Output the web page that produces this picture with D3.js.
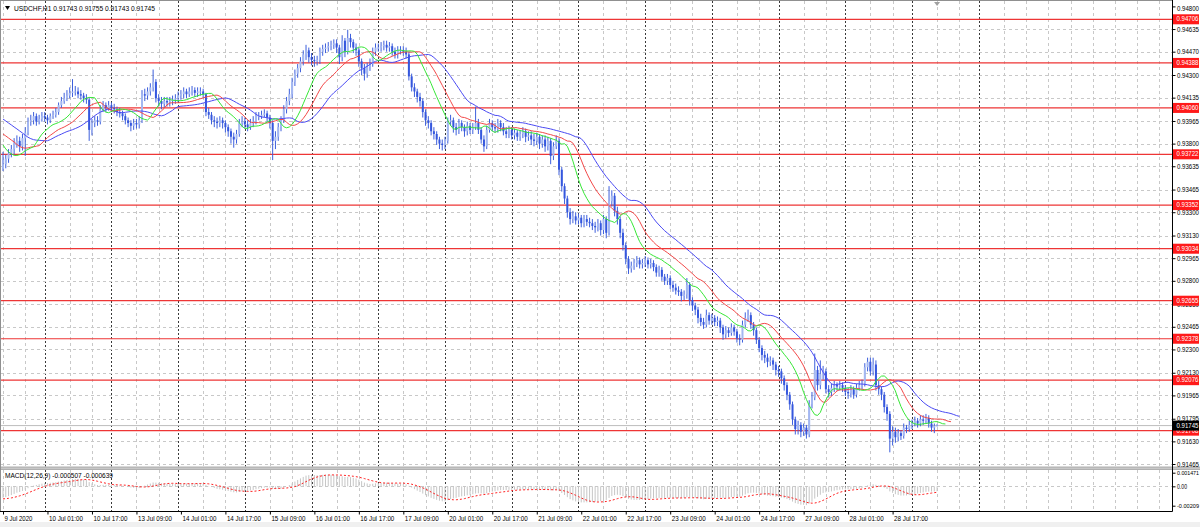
<!DOCTYPE html>
<html><head><meta charset="utf-8">
<script src="https://cdn.jsdelivr.net/npm/d3@7"></script>
<style>
body{margin:0;background:#fff;}
svg{display:block;}
</style>
</head><body>
<svg id="chart" width="1200" height="527"></svg>
<script>
// ---------------- DATA ----------------
const symbolTitle = "USDCHF,H1";
const lastQuote = ["0.91743", "0.91755", "0.91743", "0.91745"];
const macdTitle = "MACD(12,26,9)";
const macdLastValues = ["-0.000507", "-0.000639"];

const firstOpen = 0.9362;
const closes = [
0.9365,0.9369,0.9373,0.9376,0.9380,0.9382,0.9378,0.9384,0.9388,0.9396,
0.9397,0.9400,0.9396,0.9398,0.9400,0.9399,0.9397,0.9400,0.9401,0.9403,
0.9408,0.9411,0.9413,0.9415,0.9417,0.9418,0.9418,0.9416,0.9415,0.9413,
0.9412,0.9390,0.9395,0.9397,0.9396,0.9405,0.9408,0.9406,0.9408,0.9406,
0.9405,0.9403,0.9402,0.9400,0.9397,0.9395,0.9393,0.9395,0.9394,0.9397,
0.9416,0.9415,0.9418,0.9421,0.9425,0.9413,0.9411,0.9409,0.9411,0.9410,
0.9411,0.9412,0.9413,0.9415,0.9416,0.9418,0.9416,0.9418,0.9419,0.9417,
0.9418,0.9418,0.9416,0.9403,0.9401,0.9397,0.9396,0.9395,0.9397,0.9395,
0.9392,0.9389,0.9385,0.9383,0.9387,0.9395,0.9396,0.9394,0.9392,0.9395,
0.9396,0.9400,0.9400,0.9401,0.9402,0.9399,0.9395,0.9382,0.9385,0.9392,
0.9397,0.9405,0.9411,0.9416,0.9425,0.9431,0.9435,0.9440,0.9445,0.9448,
0.9443,0.9441,0.9440,0.9441,0.9447,0.9449,0.9450,0.9451,0.9452,0.9453,
0.9450,0.9443,0.9455,0.9447,0.9457,0.9454,0.9450,0.9448,0.9440,0.9435,
0.9431,0.9436,0.9438,0.9447,0.9450,0.9450,0.9451,0.9452,0.9450,0.9451,
0.9447,0.9445,0.9448,0.9448,0.9447,0.9445,0.9429,0.9421,0.9418,0.9414,
0.9411,0.9403,0.9397,0.9395,0.9389,0.9387,0.9383,0.9380,0.9379,0.9382,
0.9396,0.9397,0.9392,0.9390,0.9395,0.9392,0.9389,0.9393,0.9390,0.9392,
0.9395,0.9390,0.9383,0.9378,0.9390,0.9395,0.9392,0.9391,0.9395,0.9392,
0.9389,0.9387,0.9390,0.9386,0.9388,0.9385,0.9387,0.9389,0.9385,0.9386,
0.9383,0.9382,0.9385,0.9380,0.9383,0.9378,0.9382,0.9371,0.9378,0.9382,
0.9361,0.9349,0.9340,0.9330,0.9325,0.9327,0.9324,0.9326,0.9322,0.9325,
0.9323,0.9322,0.9320,0.9319,0.9322,0.9317,0.9325,0.9315,0.9338,0.9342,
0.9331,0.9325,0.9315,0.9306,0.9296,0.9289,0.9291,0.9293,0.9295,0.9292,
0.9293,0.9295,0.9292,0.9293,0.9290,0.9286,0.9288,0.9283,0.9280,0.9282,
0.9277,0.9275,0.9273,0.9272,0.9269,0.9270,0.9277,0.9266,0.9262,0.9259,
0.9253,0.9250,0.9248,0.9255,0.9251,0.9253,0.9250,0.9251,0.9246,0.9241,
0.9244,0.9242,0.9246,0.9243,0.9238,0.9237,0.9248,0.9253,0.9255,0.9248,
0.9244,0.9237,0.9231,0.9226,0.9224,0.9221,0.9222,0.9219,0.9215,0.9214,
0.9209,0.9204,0.9197,0.9190,0.9179,0.9172,0.9175,0.9170,0.9173,0.9168,
0.9190,0.9195,0.9215,0.9204,0.9212,0.9214,0.9201,0.9199,0.9202,0.9204,
0.9203,0.9204,0.9202,0.9199,0.9198,0.9201,0.9197,0.9202,0.9204,0.9205,
0.9217,0.9221,0.9214,0.9219,0.9204,0.9201,0.9197,0.9188,0.9183,0.9165,
0.9170,0.9166,0.9169,0.9167,0.9173,0.9172,0.9175,0.9176,0.9178,0.9176,
0.9179,0.9178,0.9180,0.9176,0.9173,0.91743,0.91745];

const highs = [
0.9374,0.9372,0.9376,0.9379,0.9384,0.9386,0.9385,0.9387,0.9392,0.9399,
0.9401,0.9403,0.9402,0.9401,0.9403,0.9403,0.9401,0.9402,0.9404,0.9406,
0.9410,0.9414,0.9417,0.9419,0.9421,0.9427,0.9422,0.9421,0.9419,0.9417,
0.9416,0.9414,0.9398,0.9400,0.9400,0.9408,0.9411,0.9410,0.9411,0.9410,
0.9409,0.9407,0.9406,0.9404,0.9402,0.9399,0.9397,0.9398,0.9398,0.9400,
0.9419,0.9420,0.9421,0.9424,0.9434,0.9427,0.9416,0.9414,0.9414,0.9414,
0.9414,0.9415,0.9416,0.9418,0.9419,0.9421,0.9420,0.9421,0.9422,0.9421,
0.9421,0.9421,0.9420,0.9417,0.9406,0.9403,0.9400,0.9399,0.9400,0.9399,
0.9397,0.9394,0.9391,0.9388,0.9390,0.9398,0.9400,0.9399,0.9397,0.9398,
0.9400,0.9403,0.9403,0.9404,0.9405,0.9404,0.9401,0.9397,0.9389,0.9395,
0.9400,0.9408,0.9414,0.9420,0.9428,0.9434,0.9438,0.9443,0.9448,0.9452,
0.9450,0.9446,0.9444,0.9444,0.9450,0.9452,0.9453,0.9454,0.9455,0.9456,
0.9456,0.9452,0.9459,0.9457,0.9463,0.9460,0.9456,0.9453,0.9450,0.9442,
0.9438,0.9439,0.9442,0.9450,0.9453,0.9453,0.9454,0.9455,0.9455,0.9454,
0.9453,0.9450,0.9451,0.9451,0.9451,0.9450,0.9447,0.9431,0.9424,0.9420,
0.9417,0.9413,0.9405,0.9400,0.9397,0.9392,0.9389,0.9385,0.9383,0.9385,
0.9399,0.9401,0.9399,0.9395,0.9398,0.9397,0.9394,0.9396,0.9395,0.9395,
0.9407,0.9398,0.9392,0.9386,0.9393,0.9398,0.9397,0.9395,0.9398,0.9397,
0.9395,0.9392,0.9393,0.9392,0.9391,0.9390,0.9390,0.9392,0.9391,0.9389,
0.9389,0.9387,0.9388,0.9387,0.9386,0.9386,0.9385,0.9384,0.9381,0.9386,
0.9384,0.9363,0.9351,0.9342,0.9333,0.9331,0.9330,0.9329,0.9328,0.9328,
0.9328,0.9326,0.9325,0.9323,0.9325,0.9324,0.9328,0.9327,0.9349,0.9346,
0.9344,0.9334,0.9327,0.9318,0.9308,0.9298,0.9294,0.9296,0.9298,0.9297,
0.9296,0.9298,0.9297,0.9296,0.9295,0.9292,0.9291,0.9290,0.9285,0.9285,
0.9284,0.9280,0.9278,0.9276,0.9274,0.9273,0.9282,0.9279,0.9268,0.9264,
0.9261,0.9256,0.9253,0.9259,0.9257,0.9256,0.9255,0.9254,0.9253,0.9248,
0.9247,0.9246,0.9249,0.9248,0.9245,0.9241,0.9251,0.9257,0.9259,0.9257,
0.9250,0.9246,0.9239,0.9233,0.9229,0.9227,0.9225,0.9224,0.9221,0.9218,
0.9216,0.9211,0.9206,0.9199,0.9192,0.9181,0.9178,0.9177,0.9176,0.9175,
0.9193,0.9199,0.9227,0.9218,0.9222,0.9218,0.9216,0.9204,0.9205,0.9207,
0.9206,0.9207,0.9206,0.9204,0.9202,0.9204,0.9203,0.9205,0.9207,0.9208,
0.9220,0.9224,0.9224,0.9224,0.9222,0.9207,0.9203,0.9199,0.9190,0.9185,
0.9174,0.9173,0.9172,0.9171,0.9176,0.9175,0.9178,0.9179,0.9181,0.9180,
0.9182,0.9182,0.9183,0.9182,0.9178,0.9176,0.91755];

const lows = [
0.9360,0.9362,0.9366,0.9370,0.9372,0.9377,0.9374,0.9375,0.9371,0.9386,
0.9393,0.9394,0.9393,0.9394,0.9396,0.9396,0.9394,0.9395,0.9398,0.9399,
0.9401,0.9406,0.9409,0.9411,0.9413,0.9414,0.9415,0.9413,0.9412,0.9410,
0.9409,0.9382,0.9386,0.9392,0.9393,0.9394,0.9403,0.9403,0.9404,0.9403,
0.9402,0.9400,0.9399,0.9397,0.9394,0.9392,0.9389,0.9390,0.9391,0.9391,
0.9395,0.9411,0.9412,0.9415,0.9418,0.9410,0.9407,0.9405,0.9406,0.9407,
0.9407,0.9408,0.9409,0.9410,0.9412,0.9413,0.9413,0.9414,0.9415,0.9414,
0.9414,0.9415,0.9413,0.9400,0.9398,0.9394,0.9392,0.9391,0.9392,0.9391,
0.9388,0.9385,0.9380,0.9377,0.9380,0.9385,0.9392,0.9391,0.9389,0.9390,
0.9392,0.9394,0.9397,0.9398,0.9399,0.9396,0.9391,0.9368,0.9376,0.9382,
0.9389,0.9395,0.9402,0.9408,0.9413,0.9422,0.9428,0.9432,0.9437,0.9441,
0.9439,0.9437,0.9436,0.9437,0.9438,0.9444,0.9446,0.9447,0.9448,0.9449,
0.9446,0.9438,0.9440,0.9443,0.9445,0.9450,0.9446,0.9444,0.9436,0.9430,
0.9426,0.9428,0.9433,0.9436,0.9444,0.9447,0.9447,0.9448,0.9447,0.9447,
0.9444,0.9442,0.9442,0.9445,0.9444,0.9442,0.9426,0.9418,0.9414,0.9410,
0.9407,0.9399,0.9393,0.9391,0.9386,0.9383,0.9379,0.9376,0.9375,0.9376,
0.9380,0.9393,0.9388,0.9386,0.9387,0.9389,0.9385,0.9386,0.9387,0.9387,
0.9390,0.9387,0.9380,0.9374,0.9376,0.9388,0.9389,0.9388,0.9388,0.9389,
0.9386,0.9384,0.9384,0.9383,0.9383,0.9382,0.9382,0.9384,0.9381,0.9382,
0.9379,0.9378,0.9379,0.9376,0.9377,0.9374,0.9375,0.9365,0.9368,0.9376,
0.9357,0.9345,0.9336,0.9326,0.9321,0.9322,0.9321,0.9321,0.9319,0.9319,
0.9320,0.9319,0.9317,0.9315,0.9316,0.9313,0.9314,0.9311,0.9313,0.9334,
0.9327,0.9321,0.9311,0.9302,0.9292,0.9285,0.9286,0.9288,0.9290,0.9289,
0.9289,0.9290,0.9289,0.9289,0.9287,0.9283,0.9283,0.9280,0.9277,0.9277,
0.9274,0.9272,0.9270,0.9269,0.9265,0.9266,0.9267,0.9262,0.9258,0.9255,
0.9249,0.9247,0.9245,0.9246,0.9248,0.9248,0.9247,0.9247,0.9242,0.9237,
0.9238,0.9239,0.9240,0.9240,0.9235,0.9233,0.9235,0.9246,0.9250,0.9245,
0.9240,0.9234,0.9228,0.9222,0.9220,0.9217,0.9218,0.9215,0.9211,0.9210,
0.9205,0.9200,0.9193,0.9186,0.9175,0.9168,0.9168,0.9166,0.9167,0.9165,
0.9166,0.9187,0.9193,0.9200,0.9201,0.9208,0.9198,0.9195,0.9196,0.9199,
0.9200,0.9200,0.9199,0.9196,0.9194,0.9195,0.9194,0.9195,0.9200,0.9201,
0.9203,0.9214,0.9211,0.9211,0.9200,0.9197,0.9193,0.9184,0.9178,0.9155,
0.9160,0.9162,0.9163,0.9164,0.9165,0.9169,0.9170,0.9172,0.9174,0.9173,
0.9174,0.9175,0.9176,0.9173,0.9170,0.9169,0.91743];

// Alligator values visible at the left edge (before the first computed point)
const jawLead   = [0.93979,0.93965,0.93950,0.93936,0.93921,0.93907,0.93892,0.93877];
const teethLead = [0.93870,0.93856,0.93841,0.93826,0.93812];
const lipsLead  = [0.93790,0.93761,0.93739];
// MACD state at the left edge
const emaSeeds = [0.9373, 0.93856];
const signalSeed = -0.00137;

const timeLabels = ["9 Jul 2020","10 Jul 01:00","10 Jul 17:00","13 Jul 09:00","14 Jul 01:00",
"14 Jul 17:00","15 Jul 09:00","16 Jul 01:00","16 Jul 17:00","17 Jul 09:00","20 Jul 01:00",
"20 Jul 17:00","21 Jul 09:00","22 Jul 01:00","22 Jul 17:00","23 Jul 09:00","24 Jul 01:00",
"24 Jul 17:00","27 Jul 09:00","28 Jul 01:00","28 Jul 17:00"];
const priceTicks = [0.94800,0.94635,0.94470,0.94300,0.94135,0.93965,0.93800,0.93635,0.93465,
0.93300,0.93130,0.92965,0.92800,0.92630,0.92465,0.92300,0.92130,0.91965,0.91795,0.91630,0.91465];
const levelLines = [0.94706,0.94388,0.94060,0.93722,0.93352,0.93034,0.92655,0.92378,0.92076,0.91708];
const currentPrice = 0.91745;
const macdTicks = [0.001471, 0, -0.00209];
const macdTickLabels = ["0.001471", "0.00", "-0.00209"];

// ---------------- LAYOUT ----------------
const W = 1200, H = 527;
const plotL = 1, plotR = 1172;
const mainTop = 1, mainBot = 466.5;
const macdTop = 470, macdBot = 511;
const FONT = "'Liberation Sans', Arial, sans-serif";
const AXFS = 6.6;

const svg = d3.select("#chart");
const n = closes.length;
const opens = closes.map((c, i) => i === 0 ? firstOpen : closes[i - 1]);

const x = d3.scaleLinear().domain([0, 336]).range([3, 3 + 2.78 * 336]);
const y = d3.scaleLinear().domain([0.948, 0.91465]).range([6.4, 464.0]);
const ym = d3.scaleLinear().domain([0.001471, -0.00209]).range([472.7, 505.7]);
const maxBar = Math.floor(x.invert(plotR));

svg.append("rect").attr("x", 0).attr("y", 522).attr("width", W).attr("height", 5).attr("fill", "#f0f0f0");

const defs = svg.append("defs");
defs.append("clipPath").attr("id", "clipMain").append("rect")
  .attr("x", plotL).attr("y", mainTop).attr("width", plotR - plotL).attr("height", mainBot - mainTop);
defs.append("clipPath").attr("id", "clipMacd").append("rect")
  .attr("x", plotL).attr("y", macdTop).attr("width", plotR - plotL).attr("height", macdBot - macdTop);

// ---------------- GRID ----------------
const grid = svg.append("g");
const sepBars = d3.range(15, 352, 24);
const gridBars = d3.range(0, maxBar + 1, 8).filter(b => !sepBars.some(s => Math.abs(x(s) - x(b)) < 4));
[[mainTop, mainBot], [macdTop, macdBot]].forEach(([t, b]) => {
  grid.selectAll(null).data(gridBars).enter().append("line")
    .attr("x1", d => Math.round(x(d)) + 0.5).attr("x2", d => Math.round(x(d)) + 0.5)
    .attr("y1", t).attr("y2", b)
    .attr("stroke", "#c8c8c8").attr("stroke-dasharray", "3,3");
  grid.selectAll(null).data(sepBars).enter().append("line")
    .attr("x1", d => Math.round(x(d)) + 0.5).attr("x2", d => Math.round(x(d)) + 0.5)
    .attr("y1", t).attr("y2", b)
    .attr("stroke", "#3a3a3a").attr("stroke-dasharray", "2,2");
});
grid.selectAll(null).data(priceTicks.slice(1)).enter().append("line")
  .attr("x1", plotL).attr("x2", plotR)
  .attr("y1", d => Math.round(y(d)) + 0.5).attr("y2", d => Math.round(y(d)) + 0.5)
  .attr("stroke", "#c8c8c8").attr("stroke-dasharray", "3,3");
grid.append("line").attr("x1", plotL).attr("x2", plotR)
  .attr("y1", Math.round(ym(0)) + 0.5).attr("y2", Math.round(ym(0)) + 0.5)
  .attr("stroke", "#c8c8c8").attr("stroke-dasharray", "3,3");

// ---------------- LEVEL LINES ----------------
svg.append("g").selectAll("line").data(levelLines).enter().append("line")
  .attr("x1", plotL).attr("x2", plotR)
  .attr("y1", d => y(d)).attr("y2", d => y(d))
  .attr("stroke", "#ee3535").attr("stroke-width", 1.2);
svg.append("line").attr("x1", plotL).attr("x2", plotR)
  .attr("y1", y(currentPrice)).attr("y2", y(currentPrice))
  .attr("stroke", "#bdbdbd").attr("stroke-width", 1);

// ---------------- CANDLES ----------------
const cg = svg.append("g").attr("clip-path", "url(#clipMain)");
const idx = d3.range(n);
cg.selectAll("line.w").data(idx).enter().append("line")
  .attr("x1", i => x(i)).attr("x2", i => x(i))
  .attr("y1", i => y(highs[i])).attr("y2", i => y(lows[i]))
  .attr("stroke", "#3d5fdc").attr("stroke-width", 1);
cg.selectAll("rect.b").data(idx).enter().append("rect")
  .attr("x", i => x(i) - 1).attr("width", 2)
  .attr("y", i => y(Math.max(opens[i], closes[i])))
  .attr("height", i => Math.max(1, Math.abs(y(opens[i]) - y(closes[i]))))
  .attr("fill", i => closes[i] >= opens[i] ? "#a3b7f1" : "#3557de");

// ---------------- ALLIGATOR ----------------
const median = idx.map(i => (highs[i] + lows[i]) / 2);
function alligator(N, shift, lead) {
  const pts = lead.map((v, k) => [k, v]);
  let prev = lead[lead.length - 1];
  median.forEach((m, i) => { prev = (prev * (N - 1) + m) / N; pts.push([i + shift, prev]); });
  return pts;
}
const line = d3.line().x(d => x(d[0])).y(d => y(d[1]));
const ag = svg.append("g").attr("clip-path", "url(#clipMain)").attr("fill", "none");
ag.append("path").attr("d", line(alligator(13, 8, jawLead))).attr("stroke", "#4a4af2").attr("stroke-width", 1);
ag.append("path").attr("d", line(alligator(8, 5, teethLead))).attr("stroke", "#f24848").attr("stroke-width", 1);
ag.append("path").attr("d", line(alligator(5, 3, lipsLead))).attr("stroke", "#36e636").attr("stroke-width", 1);

// ---------------- MACD ----------------
let e12 = emaSeeds[0], e26 = emaSeeds[1];
const macd = closes.map(c => { e12 += (2 / 13) * (c - e12); e26 += (2 / 27) * (c - e26); return e12 - e26; });
const signal = macd.map((v, i) => {
  let s = 0; for (let k = i - 8; k <= i; k++) s += k >= 0 ? macd[k] : signalSeed; return s / 9;
});
const mg = svg.append("g").attr("clip-path", "url(#clipMacd)");
mg.selectAll("line").data(idx).enter().append("line")
  .attr("x1", i => x(i)).attr("x2", i => x(i))
  .attr("y1", ym(0)).attr("y2", i => ym(macd[i]))
  .attr("stroke", "#c6c6c6").attr("stroke-width", 1);
mg.append("path").attr("d", d3.line().x((d, i) => x(i)).y(d => ym(d))(signal))
  .attr("fill", "none").attr("stroke", "#ff2020").attr("stroke-width", 1).attr("stroke-dasharray", "2,2");

// ---------------- FRAME ----------------
svg.append("rect").attr("x", 0).attr("y", mainBot).attr("width", W).attr("height", 3.5).attr("fill", "#b0b0b0");
svg.append("line").attr("x1", 0).attr("x2", W).attr("y1", mainBot + 1.75).attr("y2", mainBot + 1.75).attr("stroke", "#d8d8d8").attr("stroke-width", 0.8);
svg.append("line").attr("x1", 0.5).attr("x2", 0.5).attr("y1", 0).attr("y2", macdBot).attr("stroke", "#909090");
svg.append("line").attr("x1", 0).attr("x2", plotR).attr("y1", 0.5).attr("y2", 0.5).attr("stroke", "#909090");
svg.append("line").attr("x1", plotR + 0.5).attr("x2", plotR + 0.5).attr("y1", 0).attr("y2", macdBot + 0.5).attr("stroke", "#000");
svg.append("line").attr("x1", 0).attr("x2", plotR + 0.5).attr("y1", macdBot + 0.5).attr("y2", macdBot + 0.5).attr("stroke", "#000");

svg.append("path").attr("d", `M${x(336) - 3},2 L${x(336) + 3},2 L${x(336)},6 Z`).attr("fill", "#a0a0a0");

// ---------------- AXES ----------------
function styleAxis(g, fs) {
  g.attr("font-family", FONT).attr("font-size", fs);
  g.select(".domain").remove();
  g.selectAll("line").attr("stroke", "#000");
  g.selectAll("text").attr("fill", "#000");
}
const yAx = svg.append("g").attr("transform", `translate(${plotR + 0.5},0)`)
  .call(d3.axisRight(y).tickValues(priceTicks).tickSize(3).tickPadding(1.5).tickFormat(d3.format(".5f")));
styleAxis(yAx, AXFS);
yAx.selectAll("text").attr("textLength", 22).attr("lengthAdjust", "spacingAndGlyphs");
yAx.selectAll(".tick").filter(d => d === priceTicks[0]).select("text").attr("dy", "0.6em");

const mAx = svg.append("g").attr("transform", `translate(${plotR + 0.5},0)`)
  .call(d3.axisRight(ym).tickValues(macdTicks).tickSize(3).tickPadding(1.5).tickFormat((d, i) => macdTickLabels[i]));
styleAxis(mAx, 5.6);
mAx.selectAll("text").attr("textLength", (d, i) => [22, 10, 22][i]).attr("lengthAdjust", "spacingAndGlyphs");
mAx.selectAll(".tick").filter((d, i) => i === 1).select("text").attr("font-size", AXFS);

const labelBars = timeLabels.map((t, i) => i * 16);
const xAx = svg.append("g").attr("transform", `translate(0,${macdBot + 0.5})`)
  .call(d3.axisBottom(x).tickValues(labelBars).tickSize(3).tickPadding(1).tickFormat((d, i) => timeLabels[i]));
styleAxis(xAx, 7.5);
xAx.selectAll("text").attr("text-anchor", "start").attr("x", 1)
  .attr("textLength", (d, i) => i === 0 ? 28 : 34).attr("lengthAdjust", "spacingAndGlyphs");

// level price tags on the axis
const tags = svg.append("g").attr("font-family", FONT).attr("font-size", AXFS);
const tagData = levelLines.map(v => ({ v, bg: "#ff1a1a" })).concat([{ v: currentPrice, bg: "#000" }]);
tagData.forEach(t => {
  tags.append("rect").attr("x", plotR + 1).attr("y", y(t.v) - 5).attr("width", W - plotR - 2).attr("height", 10).attr("fill", t.bg);
  tags.append("text").attr("x", plotR + 4.5).attr("y", y(t.v)).attr("dy", "0.32em").attr("fill", "#fff")
    .attr("textLength", 22).attr("lengthAdjust", "spacingAndGlyphs").text(d3.format(".5f")(t.v));
});

// ---------------- TITLES ----------------
svg.append("path").attr("d", "M5,6 L10,6 L7.5,10 Z").attr("fill", "#000");
svg.append("text").attr("x", 14).attr("y", 11).attr("font-family", FONT).attr("font-size", 7.5).attr("fill", "#000")
  .attr("textLength", 141).attr("lengthAdjust", "spacingAndGlyphs")
  .text(symbolTitle + "  " + lastQuote.join(" "));
svg.append("text").attr("x", 5).attr("y", 478).attr("font-family", FONT).attr("font-size", 7.5).attr("fill", "#000")
  .attr("textLength", 108).attr("lengthAdjust", "spacingAndGlyphs")
  .text(macdTitle + " " + macdLastValues.join(" "));
</script>
</body></html>
